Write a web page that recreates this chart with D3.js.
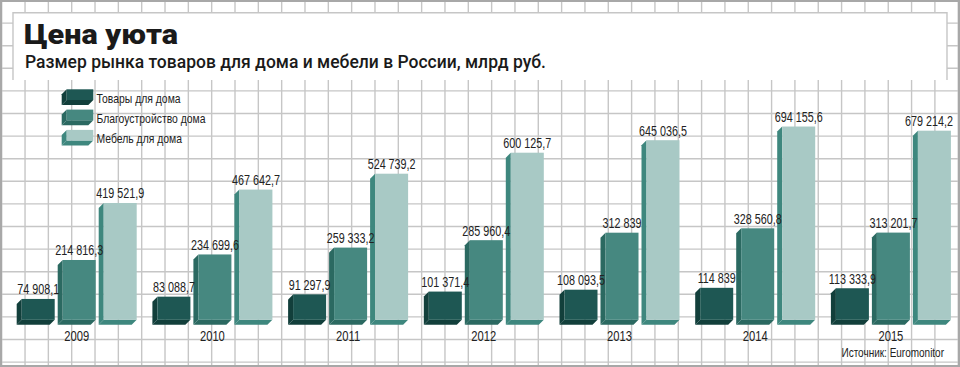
<!DOCTYPE html>
<html>
<head>
<meta charset="utf-8">
<script src="https://cdn.jsdelivr.net/npm/d3@7"></script>
<style>
  html, body { margin: 0; padding: 0; background: #fff; }
  svg { display: block; }
  .narrow { font-family: "Liberation Sans", Arial, sans-serif; }
</style>
</head>
<body>
<svg id="chart" width="960" height="367"></svg>
<script>
// ---- data ----
const title = "Цена уюта";
const subtitle = "Размер рынка товаров для дома и мебели в России, млрд руб.";
const source = "Источник: Euromonitor";
const years = ["2009", "2010", "2011", "2012", "2013", "2014", "2015"];
const seriesNames = ["Товары для дома", "Благоустройство дома", "Мебель для дома"];
const tovary = [74908.1, 83088.7, 91297.9, 101371.4, 108093.5, 114839, 113333.9];
const blago = [214816.3, 234699.6, 259333.2, 285960.4, 312839, 328560.8, 313201.7];
const mebel = [419521.9, 467642.7, 524739.2, 600125.7, 645036.5, 694155.6, 679214.2];
const seriesValues = [tovary, blago, mebel];

// ---- styles ----
const frontColors = ["#1e5753", "#468880", "#a8c9c5"];
const sideColors = ["#123f3b", "#2b6961", "#3e877e"];
const gridColor = "#c6c6c6";
const textColor = "#222";

const W = 960, H = 367;
const svg = d3.select("#chart");

// grid
const gx = d3.range(0, 42).map(k => 1.7 + 23.33 * k);
const gy = d3.range(0, 17).map(k => 0.5 + 22.6 * k);
svg.append("g").selectAll("line").data(gx).join("line")
  .attr("x1", d => d).attr("x2", d => d).attr("y1", 0).attr("y2", H)
  .attr("stroke", gridColor).attr("stroke-width", 1.4);
svg.append("g").selectAll("line").data(gy).join("line")
  .attr("x1", 0).attr("x2", W).attr("y1", d => d).attr("y2", d => d)
  .attr("stroke", gridColor).attr("stroke-width", 1.4);
// outer border
svg.append("rect").attr("x", 1).attr("y", 1).attr("width", W - 2).attr("height", H - 2)
  .attr("fill", "none").attr("stroke", "#a8a8a8").attr("stroke-width", 2);

// title panel
svg.append("rect").attr("x", 13).attr("y", 12.7).attr("width", 934).attr("height", 67.3)
  .attr("fill", "#fff");
svg.append("path").attr("d", "M13,80V12.7H947V80")
  .attr("fill", "none").attr("stroke", gridColor).attr("stroke-width", 1.4);

svg.append("text").attr("x", 24).attr("y", 43.5)
  .attr("font-family", "Roboto, 'Liberation Sans', sans-serif")
  .attr("font-weight", 900).attr("font-size", 28.5).attr("fill", "#1a1a1a")
  .attr("textLength", 154).attr("lengthAdjust", "spacingAndGlyphs")
  .text(title);
svg.append("text").attr("x", 25).attr("y", 68.3)
  .attr("font-family", "Roboto, 'Liberation Sans', sans-serif")
  .attr("font-weight", 500).attr("font-size", 17.5).attr("fill", "#1a1a1a")
  .attr("textLength", 521).attr("lengthAdjust", "spacingAndGlyphs")
  .text(subtitle);

// scales
const x0 = d3.scaleBand().domain(years).range([21.7, 21.7 + 7 * 135.7]).padding(0);
const x1 = d3.scaleBand().domain(d3.range(3)).range([0, 123]).padding(0);
const bw = x1.bandwidth() * 0.805;
const y = d3.scaleLinear().domain([0, 700000]).range([319.8, 319.8 - 194.9]);
const dd = 5;

const fmtLocale = d3.formatLocale({ decimal: ",", thousands: "\u00a0", grouping: [3], currency: ["", ""] });
const fInt = fmtLocale.format(",d"), fDec = fmtLocale.format(",.1f");
const fmt = v => Number.isInteger(v) ? fInt(v) : fDec(v);

function box(g, X, T, Bw, B, s) {
  g.append("path")
    .attr("d", `M${X},${T}L${X - dd},${T + dd}L${X - dd},${B + dd}L${X},${B}Z`)
    .attr("fill", sideColors[s]);
  g.append("path")
    .attr("d", `M${X},${B}L${X - dd},${B + dd}L${X + Bw - dd},${B + dd}L${X + Bw},${B}Z`)
    .attr("fill", sideColors[s]);
  g.append("rect").attr("x", X).attr("y", T).attr("width", Bw).attr("height", B - T)
    .attr("fill", frontColors[s]);
}

function ntext(g, x, yy, str, size, sx, anchor) {
  return g.append("text").attr("class", "narrow")
    .attr("transform", `translate(${x},${yy}) scale(${sx},1)`)
    .attr("text-anchor", anchor || "start").attr("font-size", size)
    .attr("fill", textColor).text(str);
}

// bars
const data = years.flatMap((yr, i) => seriesValues.map((arr, s) => ({ year: yr, s, v: arr[i] })));
const barsG = svg.append("g");
data.forEach(d => {
  const X = x0(d.year) + x1(d.s);
  box(barsG, X, y(d.v), bw, y(0), d.s);
});
const LSX = 0.77;
const labG = svg.append("g");
data.forEach(d => {
  const cx = x0(d.year) + x1(d.s) + bw / 2;
  const ly = y(d.v) - 4.5;
  const t = ntext(labG, cx, ly, fmt(d.v), 14, LSX, "middle");
  const half = t.node().getComputedTextLength() * LSX / 2;
  if (cx + half > 953) t.attr("transform", `translate(${953 - half},${ly}) scale(${LSX},1)`);
});

// year labels
const yrG = svg.append("g");
years.forEach(yr => ntext(yrG, x0(yr) + x1(1) + bw / 2 - 2.5, 340.5, yr, 14, 0.8, "middle"));

// legend
const lg = svg.append("g");
seriesNames.forEach((name, s) => {
  const ly = 89.3 + s * 20.3;
  box(lg, 66.7, ly, 26.6, ly + 10.7, s);
  ntext(lg, 96.5, ly + 13.3, name, 13, 0.8);
});

// source
ntext(svg, 944, 357, source, 12.5, 0.8, "end");
</script>
</body>
</html>
